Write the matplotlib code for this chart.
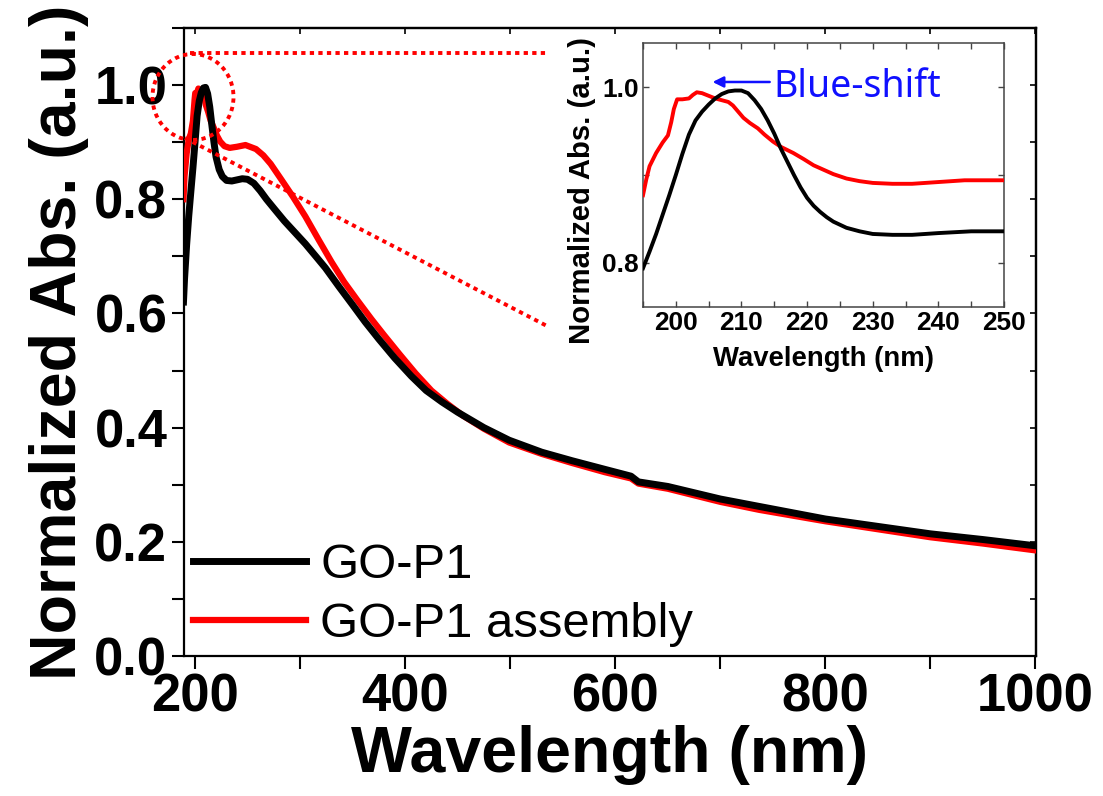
import matplotlib
matplotlib.use('Agg')
import matplotlib.pyplot as plt
from matplotlib import font_manager as fm
from matplotlib.patches import Ellipse
from matplotlib.lines import Line2D
from matplotlib.ticker import MultipleLocator

# ---------------- data ----------------
main_wl_black = [189, 190, 192, 194, 196, 198, 200, 202, 204, 206, 208, 210, 212, 214, 216, 218,
                 220, 223, 226, 230, 235, 240, 245, 250, 256, 262, 268, 276, 285, 295, 305, 315,
                 324, 337, 350, 362, 375, 390, 406, 420, 435, 450, 475, 499, 530, 559, 590, 615,
                 622, 650, 700, 737, 800, 850, 900, 950, 1000]
main_abs_black = [0.62, 0.66, 0.72, 0.77, 0.813, 0.855, 0.90, 0.946, 0.972, 0.987, 0.995, 0.996,
                  0.985, 0.962, 0.93, 0.90, 0.874, 0.852, 0.84, 0.833, 0.832, 0.834, 0.836, 0.835,
                  0.828, 0.815, 0.800, 0.782, 0.762, 0.742, 0.722, 0.700, 0.680, 0.647, 0.615,
                  0.585, 0.555, 0.522, 0.490, 0.465, 0.445, 0.427, 0.400, 0.378, 0.357, 0.342,
                  0.327, 0.315, 0.305, 0.297, 0.275, 0.262, 0.240, 0.227, 0.214, 0.204, 0.193]

main_wl_red = [189, 190, 192, 194, 196, 198, 199.6, 200.2, 202, 203.2, 205, 207, 209, 210.3, 212.5,
               214.8, 217.9, 221, 224, 228, 233, 240, 248, 258, 265, 272, 282, 293, 305, 318, 330,
               342, 355, 368, 380, 395, 410, 425, 440, 455, 475, 499, 530, 559, 590, 615, 622,
               650, 700, 737, 800, 850, 900, 950, 1000]
main_abs_red = [0.80, 0.84, 0.88, 0.905, 0.915, 0.937, 0.975, 0.986, 0.987, 0.994, 0.99, 0.985,
                0.977, 0.965, 0.953, 0.938, 0.925, 0.911, 0.901, 0.893, 0.890, 0.892, 0.895,
                0.888, 0.877, 0.862, 0.835, 0.805, 0.770, 0.728, 0.690, 0.655, 0.622, 0.590,
                0.562, 0.528, 0.495, 0.465, 0.442, 0.421, 0.398, 0.374, 0.354, 0.338, 0.322,
                0.311, 0.302, 0.293, 0.270, 0.256, 0.236, 0.222, 0.208, 0.197, 0.185]

inset_wl_black = [195, 196, 197, 198, 199, 200, 201, 202, 203, 204, 205, 206, 207, 208, 209, 210,
                  211, 212, 213, 214, 215, 216, 217, 218, 219, 220, 221, 222, 223, 224, 226, 228,
                  230, 233, 236, 240, 245, 250]
inset_abs_black = [0.794, 0.813, 0.833, 0.855, 0.877, 0.900, 0.924, 0.946, 0.962, 0.972, 0.980,
                   0.987, 0.992, 0.995, 0.996, 0.996, 0.993, 0.985, 0.975, 0.962, 0.947, 0.930,
                   0.915, 0.900, 0.886, 0.874, 0.865, 0.858, 0.852, 0.847, 0.840, 0.836, 0.833,
                   0.832, 0.832, 0.834, 0.836, 0.836]

inset_wl_red = [195, 195.5, 196, 197, 198, 198.8, 199.3, 199.7, 200.2, 201, 202, 202.6, 203.2, 204,
                205, 206, 207, 208, 208.7, 209.5, 210.3, 211.3, 212.5, 213.5, 214.8, 216, 217.9,
                219.5, 221, 222.5, 224, 226, 228, 230, 233, 236, 240, 244, 250]
inset_abs_red = [0.877, 0.895, 0.910, 0.925, 0.937, 0.945, 0.960, 0.975, 0.986, 0.986, 0.987,
                 0.991, 0.994, 0.993, 0.990, 0.987, 0.985, 0.983, 0.979, 0.972, 0.965, 0.959,
                 0.953, 0.946, 0.938, 0.932, 0.925, 0.918, 0.911, 0.906, 0.901, 0.896, 0.893,
                 0.891, 0.890, 0.890, 0.892, 0.894, 0.894]

labels = ['GO-P1', 'GO-P1 assembly']
main_xticks = [200, 400, 600, 800, 1000]
main_yticks = [0.0, 0.2, 0.4, 0.6, 0.8, 1.0]
inset_xticks = [200, 210, 220, 230, 240, 250]
inset_yticks = [0.8, 1.0]


# ---------------- fonts ----------------
def has_font(name):
    try:
        fm.findfont(fm.FontProperties(family=name), fallback_to_default=False)
        return True
    except Exception:
        return False

NARROW = has_font('Liberation Sans Narrow')
FAM = 'Liberation Sans Narrow' if NARROW else 'Liberation Sans'
k = 1.0 if NARROW else 0.86
plt.rcParams['font.family'] = [FAM, 'DejaVu Sans']

W, H = 1103, 796
fig = plt.figure(figsize=(W / 100, H / 100), dpi=100)

def fx(px):
    return px / W

def fy(py):
    return 1 - py / H

# ---------------- main axes ----------------
ax = fig.add_axes([fx(184), fy(656), fx(1036) - fx(184), fy(28) - fy(656)])
ax.plot(main_wl_red, main_abs_red, color='#ff0000', lw=4.5, zorder=3, solid_joinstyle='round')
ax.plot(main_wl_black, main_abs_black, color='black', lw=5, zorder=4, solid_joinstyle='round')
ax.set_xlim(189.5, 1000.5)
ax.set_ylim(0, 1.1)
ax.set_xticks(main_xticks)
ax.set_yticks(main_yticks)
ax.set_yticklabels(['%.1f' % v for v in main_yticks])
ax.xaxis.set_minor_locator(MultipleLocator(100))
ax.yaxis.set_minor_locator(MultipleLocator(0.1))
for sp in ax.spines.values():
    sp.set_linewidth(1.6)
ax.tick_params(which='both', direction='out', length=9, width=1.5, top=False, right=False)
ax.tick_params(which='major', labelsize=44 * k, pad=3)
for lab in ax.get_xticklabels() + ax.get_yticklabels():
    lab.set_fontweight('bold')
ax.set_xlabel('Wavelength (nm)', fontsize=54 * k, fontweight='bold', labelpad=2)
ax.set_ylabel('Normalized Abs. (a.u.)', fontsize=54 * k, fontweight='bold', labelpad=4)

secx = ax.secondary_xaxis('top')
secx.xaxis.set_major_locator(MultipleLocator(100))
secx.tick_params(direction='in', length=4, width=1.2, labeltop=False)
secx.spines['top'].set_linewidth(1.6)
secy = ax.secondary_yaxis('right')
secy.yaxis.set_major_locator(MultipleLocator(0.1))
secy.tick_params(direction='in', length=4, width=1.2, labelright=False)
secy.spines['right'].set_linewidth(1.6)

handles = [Line2D([], [], color='black', lw=5), Line2D([], [], color='#ff0000', lw=4.5)]
ax.legend(handles, labels, loc='center left', bbox_to_anchor=(0.0106, 0.097), frameon=False,
          prop=fm.FontProperties(family=FAM, size=41 * k), handlelength=2.3,
          handletextpad=0.3, labelspacing=0.28, borderpad=0, borderaxespad=0)

# ---------------- dotted zoom annotation ----------------
dot = dict(color='#ff0000', lw=2.8, linestyle=(0, (1.1, 1.1)), dash_capstyle='butt')
fig.add_artist(Line2D([fx(190), fx(547)], [fy(53), fy(53)], transform=fig.transFigure, **dot))
fig.add_artist(Line2D([fx(185), fx(547)], [fy(138), fy(326)], transform=fig.transFigure, **dot))
fig.add_artist(Ellipse((fx(193), fy(97)), fx(81), 86 / H, transform=fig.transFigure,
                       fill=False, edgecolor='#ff0000', lw=2.8, linestyle=(0, (1.1, 1.1))))

# ---------------- inset ----------------
ins = fig.add_axes([fx(643), fy(307), fx(1004) - fx(643), fy(43) - fy(307)])
ins.plot(inset_wl_red, inset_abs_red, color='#ff0000', lw=2.8, zorder=3, solid_joinstyle='round')
ins.plot(inset_wl_black, inset_abs_black, color='black', lw=2.8, zorder=4, solid_joinstyle='round')
ins.set_xlim(195, 250)
ins.set_ylim(0.75, 1.05)
ins.set_xticks(inset_xticks)
ins.set_yticks(inset_yticks)
ins.set_yticklabels(['%.1f' % v for v in inset_yticks])
ins.xaxis.set_minor_locator(MultipleLocator(5))
ins.yaxis.set_minor_locator(MultipleLocator(0.1))
for sp in ins.spines.values():
    sp.set_linewidth(1.1)
    sp.set_color('#444444')
ins.tick_params(which='both', direction='in', length=4, width=1.0, top=True, right=True,
                color='#444444')
ins.tick_params(which='major', labelsize=22 * k, pad=3)
for lab in ins.get_xticklabels() + ins.get_yticklabels():
    lab.set_fontweight('bold')
ins.set_xlabel('Wavelength (nm)', fontsize=23 * k, fontweight='bold', labelpad=8)
ins.set_ylabel('Normalized Abs. (a.u.)', fontsize=24.5 * k, fontweight='bold')
ins.yaxis.set_label_coords(-0.13, 0.44)

ins.annotate('', xy=(205.6, 1.0057), xytext=(214.3, 1.0057),
             arrowprops=dict(arrowstyle='-|>', color='#1010ff', lw=1.8, mutation_scale=16,
                             shrinkA=0, shrinkB=0))
ins.text(214.8, 0.9886, 'Blue-shift', color='#1010ff', fontsize=27,
         family=['Noto Sans', 'DejaVu Sans'], va='baseline', ha='left')

fig.savefig('out.png', dpi=100)
